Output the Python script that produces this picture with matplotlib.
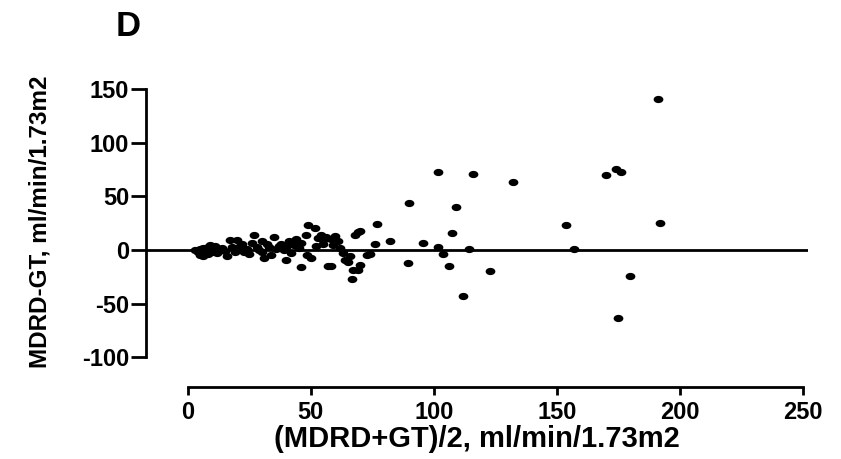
import matplotlib
matplotlib.use("Agg")
import matplotlib.pyplot as plt
from matplotlib.path import Path
from matplotlib.transforms import Affine2D
import numpy as np

mean_vals = [3, 4, 5, 5, 6, 6, 7, 7, 8, 8, 9, 9, 10, 10, 11, 12, 12, 4, 6, 8,
             14, 15, 16, 17, 18, 19, 20, 21, 22, 23, 24, 25,
             26, 27, 28, 29, 30, 30, 31, 32, 33, 34, 35,
             36, 37, 38, 39, 40, 40, 41, 42, 43, 44, 45, 46, 46,
             48, 48.5, 49, 50, 51.5, 52, 53, 54, 55, 55,
             56, 57, 58, 58, 59, 60, 61, 62, 63, 64, 65,
             66, 67, 66.7, 68, 69, 69, 70, 70, 73, 74, 76, 77,
             82, 89.6, 90, 95.7, 101.5, 101.7, 103.8, 106.1, 107.3, 108.8, 111.8,
             114.2, 116, 122.8, 132.2, 153.5, 156.9, 169.8, 173.9, 176, 174.7,
             179.7, 190.9, 192]
diff_vals = [0, -2, 1, -5, -3, 2, 0, -1, 3, -4, 1, 5, -2, 2, 4, 0, -3, -1, -6, -1,
             2, -1, -6, 9, 3, -2, 9, 4, 6, -2, 1, -4,
             7, 14, 3, 0, 8, -2, -7, 6, 3, -5, 12,
             1, 4, 6, 0, -9.5, 3, 8, -3, 5, 10, 2, -15.5, 7,
             14, -4.6, 23, -7, 21, 4, 11, 14, 6, 9,
             12, -15, -15, 10, 5, 13, 8, 2, -3, -9.5, -11,
             -6, -18.6, -26.6, 14, 17, -18.6, -14, 18, -4.5, -3.7, 6, 24.3,
             8, -12.4, 44, 7, 73, 3, -3.4, -14.6, 15.5, 40.4, -42.9,
             0.6, 71, -19.3, 63.4, 23, 1.2, 70.2, 75.2, 72.5, -63.1,
             -24.3, 140.6, 25.5]

x_ticks = [0, 50, 100, 150, 200, 250]
y_ticks = [-100, -50, 0, 50, 100, 150]

FONT = ["Liberation Sans", "DejaVu Sans"]
plt.rcParams["font.family"] = FONT
plt.rcParams["axes.unicode_minus"] = False

fig = plt.figure(figsize=(8.41, 4.59), dpi=100)
ax = fig.add_axes([146 / 841, 1 - 387.2 / 459, 661.9 / 841, (387.2 - 87.1) / 459])

# elliptical marker (source image is horizontally stretched)
circ = Path.unit_circle()
ell = Affine2D().scale(1.0, 0.7).transform_path(circ)

ax.axhline(0, color="black", lw=2.0, zorder=1)
ax.plot(mean_vals, diff_vals, linestyle="none", marker=ell, ms=6.0,
        color="black", zorder=3, clip_on=False)

ax.set_xlim(-17, 252)
ax.set_ylim(-128, 152)

for s in ["top", "right"]:
    ax.spines[s].set_visible(False)
ax.spines["left"].set_bounds(-100, 150)
ax.spines["bottom"].set_bounds(0, 250)
for s in ["left", "bottom"]:
    ax.spines[s].set_linewidth(2.0)

ax.set_xticks(x_ticks)
ax.set_yticks(y_ticks)
ax.tick_params(axis="x", length=6, width=2.0, pad=4, labelsize=17)
ax.tick_params(axis="y", length=11, width=2.0, pad=1, labelsize=17)
for lab in ax.get_xticklabels() + ax.get_yticklabels():
    lab.set_fontweight("bold")

ax.set_xlabel("(MDRD+GT)/2, ml/min/1.73m2", fontsize=21, fontweight="bold", labelpad=1)
ax.set_ylabel("MDRD-GT, ml/min/1.73m2", fontsize=17.5, fontweight="bold")
ax.yaxis.set_label_coords((52 - 146) / 661.9, (387.2 - 222) / 300.1)

fig.text(116 / 841, 1 - 36 / 459, "D", fontsize=25, fontweight="bold", ha="left", va="baseline")

fig.savefig("out.png", dpi=100)
